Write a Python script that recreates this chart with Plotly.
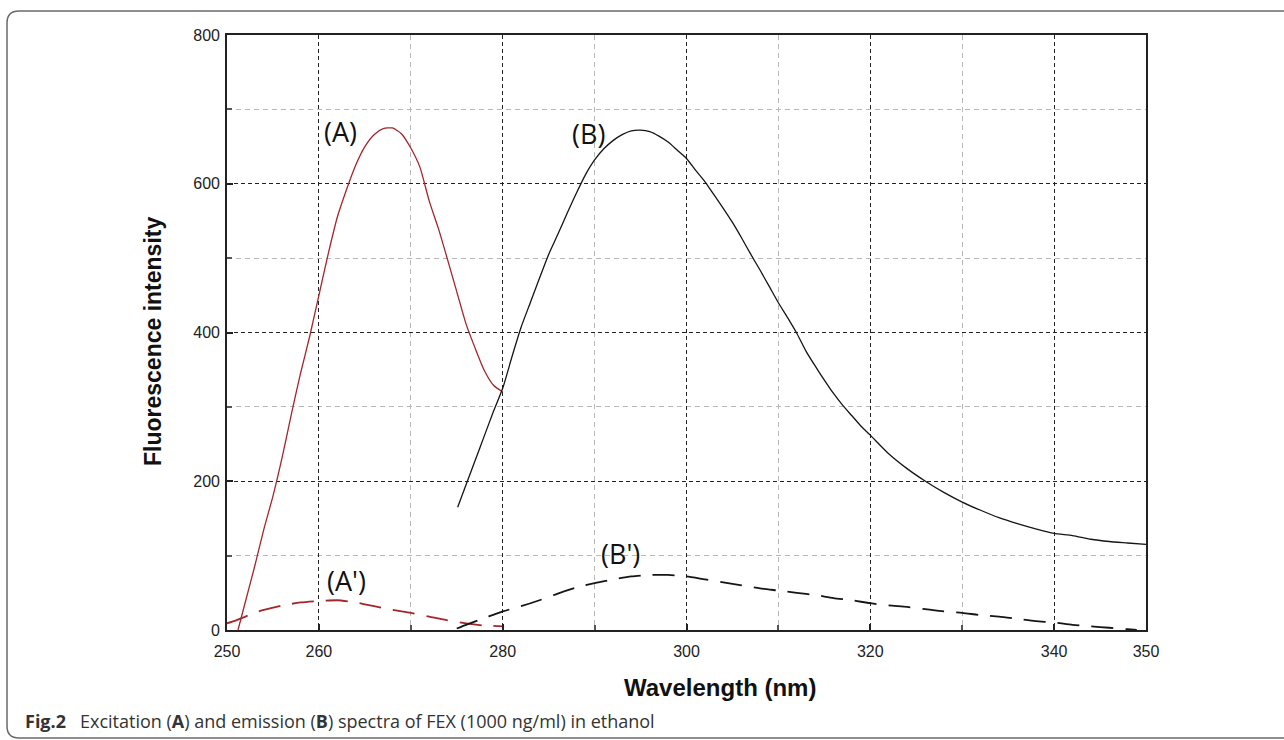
import plotly.graph_objects as go

# ---------------- data ----------------
# (A) excitation spectrum, solid red
wl_A = [251.2, 252, 253, 254, 255, 256, 257, 258, 259, 260, 261, 262, 263, 264, 265,
        266, 267, 268, 269, 270, 271, 272, 273, 274, 275, 276, 277, 278, 279, 280]
int_A = [0, 38, 85, 135, 180, 232, 290, 345, 395, 450, 505, 555, 592, 625, 650,
         666, 674, 675, 667, 648, 622, 577, 540, 498, 455, 412, 379, 349, 329, 320]

# (A') blank excitation, dashed red
wl_A2 = [250, 251, 252, 253, 254, 256, 258, 260, 262, 264, 266, 268, 270, 272, 274, 276, 278, 280]
int_A2 = [9, 13, 18, 23, 27, 33, 37, 39, 40, 37, 32, 27, 23, 18, 13, 9, 6, 5]

# (B) emission spectrum, solid black
wl_B = [275.1, 276, 277, 278, 279, 280, 281, 282, 283, 284, 285, 286, 287, 288, 289, 290,
        291, 292, 293, 294, 295, 296, 297, 298, 299, 300, 301, 302, 303, 304, 305, 306,
        307, 308, 309, 310, 311, 312, 313, 314, 315, 316, 317, 318, 319, 320, 322, 324,
        326, 328, 330, 332, 334, 336, 338, 340, 342, 344, 346, 348, 350]
int_B = [165, 195, 228, 261, 294, 325, 367, 407, 440, 473, 505, 532, 560, 587, 612, 632,
         647, 658, 666, 671, 672, 670, 664, 656, 645, 634, 618, 603, 585, 567, 548, 527,
         505, 484, 462, 440, 420, 399, 375, 355, 336, 318, 302, 288, 274, 262, 237, 217,
         200, 185, 172, 161, 151, 143, 136, 130, 127, 122, 119, 117, 115]

# (B') blank emission, dashed black
wl_B2 = [275, 276, 278, 280, 282, 284, 286, 288, 290, 292, 294, 296, 298, 300, 302, 304,
         306, 308, 310, 312, 314, 316, 318, 320, 322, 324, 326, 328, 330, 332, 334, 336,
         338, 340, 342, 344, 346, 348, 349]
int_B2 = [2, 7, 16, 25, 32, 40, 49, 57, 63, 68, 72, 74, 74, 72, 68, 64,
          60, 56, 53, 50, 47, 43, 40, 36, 33, 31, 28, 25, 23, 20, 18, 15,
          12, 10, 7, 5, 3, 1, 0]

x_ticks = [250, 260, 280, 300, 320, 340, 350]
x_minor = [270, 290, 310, 330]
y_ticks = [0, 200, 400, 600, 800]
y_minor = [100, 300, 500, 700]

labels = ["(A)", "(B)", "(A')", "(B')"]
label_x = [262.3, 289.3, 263.0, 292.8]
label_y = [670, 668, 66, 103]

x_title = "Wavelength (nm)"
y_title = "Fluorescence intensity"
caption = ("<b>Fig.2</b>\u00a0\u00a0 Excitation (<b>A</b>) and emission (<b>B</b>) "
           "spectra of FEX (1000 ng/ml) in ethanol")

# ---------------- layout geometry ----------------
W, H = 1284, 740
ML, MR, MT, MB = 227, 138, 35, 110
PW, PH = W - ML - MR, H - MT - MB


def px(xp):
    return (xp - ML) / PW


def py(yp):
    return (H - MB - yp) / PH


RED = "#a3262b"
BLACK = "#151515"

fig = go.Figure()
fig.add_trace(go.Scatter(x=wl_A, y=int_A, mode="lines",
                         line=dict(color=RED, width=1.3, shape="spline", smoothing=0.6)))
fig.add_trace(go.Scatter(x=wl_A2, y=int_A2, mode="lines",
                         line=dict(color=RED, width=1.8, dash="22px,12px", shape="spline", smoothing=0.6)))
fig.add_trace(go.Scatter(x=wl_B, y=int_B, mode="lines",
                         line=dict(color=BLACK, width=1.3, shape="spline", smoothing=0.6)))
fig.add_trace(go.Scatter(x=wl_B2, y=int_B2, mode="lines",
                         line=dict(color=BLACK, width=1.8, dash="22px,12px", shape="spline", smoothing=0.6)))

for t, xx, yy in zip(labels, label_x, label_y):
    fig.add_annotation(x=xx, y=yy, xref="x", yref="y", text=t, showarrow=False,
                       font=dict(family="Open Sans", size=27, color="#111"))

fig.add_annotation(x=px(720), y=py(687), xref="paper", yref="paper", text=f"<b>{x_title}</b>",
                   showarrow=False, xanchor="center", yanchor="middle",
                   font=dict(family="Liberation Sans", size=24, color="#111"))
fig.add_annotation(x=px(153), y=py(342), xref="paper", yref="paper", text=f"<b>{y_title}</b>",
                   showarrow=False, textangle=-90, xanchor="center", yanchor="middle",
                   font=dict(family="Liberation Sans", size=23, color="#111"))
fig.add_annotation(x=px(23), y=py(721), xref="paper", yref="paper", text=caption,
                   showarrow=False, xanchor="left", yanchor="middle",
                   font=dict(family="Open Sans", size=18, color="#333"))

# outer rounded frame
r = 12
x0, y0, x1, y1 = 7, 11, 1300, 738
path = (f"M {px(x1)} {py(y0)} L {px(x0 + r)} {py(y0)} "
        f"Q {px(x0)} {py(y0)} {px(x0)} {py(y0 + r)} "
        f"L {px(x0)} {py(y1 - r)} Q {px(x0)} {py(y1)} {px(x0 + r)} {py(y1)} "
        f"L {px(x1)} {py(y1)}")
fig.add_shape(type="path", path=path, xref="paper", yref="paper",
              line=dict(color="#6a6a6a", width=1.5))

axis_common = dict(
    showline=True, mirror=True, linecolor="#222", linewidth=1.6,
    ticks="inside", ticklen=6, tickcolor="#222", tickwidth=1.5,
    showgrid=True, gridcolor="#222", gridwidth=1.4, griddash="4px,3px",
    zeroline=False,
    tickfont=dict(family="Liberation Sans", size=16, color="#222"),
)

fig.update_xaxes(range=[250, 350], tickmode="array", tickvals=x_ticks,
                 ticktext=[str(v) for v in x_ticks], ticklabelstandoff=6,
                 minor=dict(tickmode="array", tickvals=x_minor, showgrid=True,
                            gridcolor="#b8b8b8", gridwidth=1, griddash="5px,4px",
                            ticks="inside", ticklen=5, tickcolor="#555"),
                 **axis_common)
fig.update_yaxes(range=[0, 800], tickmode="array", tickvals=y_ticks,
                 ticktext=[str(v) for v in y_ticks], ticklabelstandoff=2,
                 minor=dict(tickmode="array", tickvals=y_minor, showgrid=True,
                            gridcolor="#b8b8b8", gridwidth=1, griddash="5px,4px",
                            ticks="inside", ticklen=5, tickcolor="#555"),
                 **axis_common)

fig.update_layout(
    width=W, height=H,
    margin=dict(l=ML, r=MR, t=MT, b=MB),
    plot_bgcolor="white", paper_bgcolor="white",
    showlegend=False,
)

fig.write_html("out.html", config={"displayModeBar": False},
               post_script="document.body.style.margin='0';document.body.style.overflow='hidden';")
